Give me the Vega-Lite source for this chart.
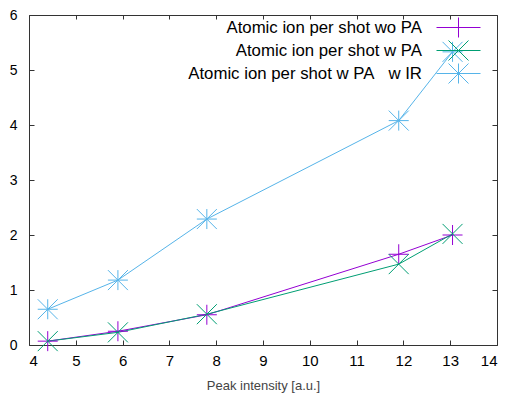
{
  "$schema": "https://vega.github.io/schema/vega-lite/v6.json",
  "autosize": "none",
  "width": 468,
  "height": 330,
  "padding": {"left": 29, "top": 15, "right": 9, "bottom": 50},
  "background": "white",
  "config": {
    "view": {"stroke": "#333", "strokeWidth": 1},
    "font": "Liberation Sans",
    "axis": {"grid": false, "domain": false, "tickColor": "#333", "labelColor": "#000", "labelFont": "Liberation Sans", "labelFontSize": 15}
  },
  "data": {"values": [
    {"x": 4.4, "y": 0.07, "s": "Atomic ion per shot wo PA"},
    {"x": 5.9, "y": 0.25, "s": "Atomic ion per shot wo PA"},
    {"x": 7.8, "y": 0.55, "s": "Atomic ion per shot wo PA"},
    {"x": 11.9, "y": 1.65, "s": "Atomic ion per shot wo PA"},
    {"x": 13.05, "y": 2.0, "s": "Atomic ion per shot wo PA"},
    {"x": 4.4, "y": 0.07, "s": "Atomic ion per shot w PA"},
    {"x": 5.9, "y": 0.23, "s": "Atomic ion per shot w PA"},
    {"x": 7.8, "y": 0.56, "s": "Atomic ion per shot w PA"},
    {"x": 11.9, "y": 1.47, "s": "Atomic ion per shot w PA"},
    {"x": 13.05, "y": 2.02, "s": "Atomic ion per shot w PA"},
    {"x": 4.4, "y": 0.65, "s": "Atomic ion per shot w PA\u00a0\u00a0\u00a0w IR"},
    {"x": 5.9, "y": 1.18, "s": "Atomic ion per shot w PA\u00a0\u00a0\u00a0w IR"},
    {"x": 7.8, "y": 2.29, "s": "Atomic ion per shot w PA\u00a0\u00a0\u00a0w IR"},
    {"x": 11.9, "y": 4.08, "s": "Atomic ion per shot w PA\u00a0\u00a0\u00a0w IR"},
    {"x": 13.05, "y": 5.33, "s": "Atomic ion per shot w PA\u00a0\u00a0\u00a0w IR"}
  ]},
  "layer": [
    {
      "mark": {"type": "line", "strokeWidth": 1},
      "encoding": {
        "x": {"field": "x", "type": "quantitative", "scale": {"domain": [4, 14], "nice": false, "zero": false},
              "axis": {"orient": "bottom", "values": [4,5,6,7,8,9,10,11,12,13,14], "tickSize": -5, "labelPadding": 13, "title": "Peak intensity [a.u.]", "titleFontSize": 13, "titleFontWeight": "normal", "titleColor": "#444", "titleFont": "Liberation Sans", "titlePadding": 11}},
        "y": {"field": "y", "type": "quantitative", "scale": {"domain": [0, 6], "nice": false},
              "axis": {"orient": "left", "values": [0,1,2,3,4,5,6], "tickSize": -5, "labelPadding": 17, "labelFontSize": 14, "title": null}},
        "color": {"field": "s", "type": "nominal",
                  "scale": {"domain": ["Atomic ion per shot wo PA", "Atomic ion per shot w PA", "Atomic ion per shot w PA\u00a0\u00a0\u00a0w IR"], "range": ["#9400d3", "#009e73", "#56b4e9"]},
                  "legend": {"title": null, "orient": "none", "legendX": 419, "legendY": 2, "labelAlign": "right", "labelOffset": -47, "labelFontSize": 16.8, "labelFont": "Liberation Sans", "labelColor": "#000", "rowPadding": -5, "gridAlign": "all", "padding": 0, "symbolSize": 400, "symbolStrokeWidth": 1, "symbolFillColor": "transparent", "labelLimit": 400,
                    "encode": {"symbols": {"update": {"shape": {"signal": "datum.index === 0 ? 'M-2.2,0H2.2M0,-1V1' : datum.index === 1 ? 'M-2.2,0H2.2M-1,-1L1,1M-1,1L1,-1' : 'M-2.2,0H2.2M0,-1V1M-1,-1L1,1M-1,1L1,-1'"}, "stroke": {"signal": "scale('color', datum.value)"}}}}}}
      }
    },
    {
      "transform": [{"filter": "datum.s === 'Atomic ion per shot wo PA'"}],
      "mark": {"type": "point", "filled": false, "strokeWidth": 1, "opacity": 1, "size": 400, "shape": "M-1,0H1M0,-1V1"},
      "encoding": {
        "x": {"field": "x", "type": "quantitative", "scale": {"domain": [4, 14], "nice": false, "zero": false},
              "axis": {"orient": "top", "values": [4,5,6,7,8,9,10,11,12,13,14], "tickSize": -4, "labels": false, "title": null}},
        "y": {"field": "y", "type": "quantitative", "scale": {"domain": [0, 6], "nice": false},
              "axis": {"orient": "right", "values": [0,1,2,3,4,5,6], "tickSize": -5, "labels": false, "title": null}},
        "color": {"field": "s", "type": "nominal"}
      }
    },
    {
      "transform": [{"filter": "datum.s === 'Atomic ion per shot w PA'"}],
      "mark": {"type": "point", "filled": false, "strokeWidth": 1, "opacity": 1, "size": 400, "shape": "M-1,-1L1,1M-1,1L1,-1"},
      "encoding": {
        "x": {"field": "x", "type": "quantitative", "axis": null},
        "y": {"field": "y", "type": "quantitative", "axis": null},
        "color": {"field": "s", "type": "nominal"}
      }
    },
    {
      "transform": [{"filter": "datum.s !== 'Atomic ion per shot wo PA' && datum.s !== 'Atomic ion per shot w PA'"}],
      "mark": {"type": "point", "filled": false, "strokeWidth": 1, "opacity": 1, "size": 400, "shape": "M-1,0H1M0,-1V1M-1,-1L1,1M-1,1L1,-1"},
      "encoding": {
        "x": {"field": "x", "type": "quantitative", "axis": null},
        "y": {"field": "y", "type": "quantitative", "axis": null},
        "color": {"field": "s", "type": "nominal"}
      }
    }
  ],
  "resolve": {"axis": {"x": "independent", "y": "independent"}}
}
